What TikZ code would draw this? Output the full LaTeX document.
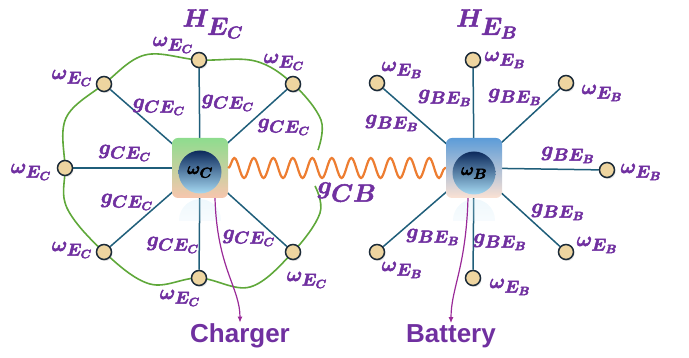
\documentclass[tikz,border=0pt]{standalone}
\usepackage{fontspec}
\newfontfamily\tagfont{Liberation Sans}
\usetikzlibrary{calc,decorations.pathmorphing,backgrounds,fadings,arrows.meta,shadows}
\DeclareMathSizes{22}{22}{16}{12}
\DeclareMathSizes{32}{32}{23}{17}
\DeclareMathSizes{18}{18}{14}{10}
\definecolor{labelpurple}{HTML}{7030A0}
\definecolor{linkblue}{HTML}{1F5E7A}
\definecolor{ringgreen}{HTML}{5FA83A}
\definecolor{coilorange}{HTML}{ED7D31}
\definecolor{feedpurple}{HTML}{9A2A98}
\definecolor{sandfill}{HTML}{EED5A0}
\definecolor{nodeedge}{HTML}{1B2A38}
\definecolor{coretop}{HTML}{0C2A5C}
\definecolor{coremid}{HTML}{4C88C2}
\definecolor{corebot}{HTML}{A6D9F2}
\definecolor{hubCtop}{HTML}{8EDC8E}
\definecolor{hubCbot}{HTML}{F7C6AE}
\definecolor{hubBtop}{HTML}{5C9CD8}
\definecolor{hubBbot}{HTML}{FCE2D4}
\begin{document}
\begin{tikzpicture}[
        x=1pt, y=1pt,
        hub/.style={
            rectangle,
            rounded corners=6pt,
            minimum width=56pt,
            minimum height=60pt,
            inner sep=0pt
        },
        core/.style={
            circle,
            minimum size=43pt,
            inner sep=0pt,
            top color=coretop,
            middle color=coremid,
            bottom color=corebot,
            font=\fontsize{18}{20}\selectfont\boldmath,
            heavy
        },
        env/.style={
            circle,
            draw=nodeedge,
            line width=1.5pt,
            fill=sandfill,
            minimum size=15pt,
            inner sep=0pt,
            drop shadow={shadow xshift=1pt, shadow yshift=-1.5pt, opacity=.25}
        },
        heavy/.style={
            execute at begin node={\special{pdf:literal direct 2 Tr 0.5 w}},
            execute at end node={\special{pdf:literal direct 0 Tr}}
        },
        lbl/.style={text=labelpurple, font=\fontsize{22}{24}\selectfont\boldmath, inner sep=0pt, heavy},
        big/.style={text=labelpurple, font=\fontsize{32}{34}\selectfont\boldmath, inner sep=0pt, heavy},
        tag/.style={text=labelpurple, font=\fontsize{26}{28}\selectfont\tagfont\bfseries, inner sep=1pt},
        link/.style={draw=linkblue, line width=1.5pt},
        ring/.style={draw=ringgreen, line width=1.6pt},
        coil/.style={draw=coilorange, line width=2.2pt, decorate,
            decoration={snake, amplitude=10pt, segment length=19.5pt}},
        feed/.style={->, >={Latex[length=6pt,width=5pt]}, draw=feedpurple, line width=1.2pt},
        glint/.style={fill=corebot!60!white, opacity=.3, path fading=south}
    ]

        \useasboundingbox (0,0) rectangle (689,358);

        \node[hub, top color=hubCtop, bottom color=hubCbot] (C) at (200,190) {};
        \node[hub, top color=hubBtop, bottom color=hubBbot] (B) at (474,190) {};
        \node[core] (wC) at (200,186) {$\omega_C$};
        \node[core] (wB) at (474,185) {$\omega_B$};

        \begin{scope}
            \clip ($(C.south west)+(0,-1)$) rectangle ($(C.south east)+(0,-22)$);
            \fill[glint] ($(C.south)+(0,-22)$) circle (21pt);
        \end{scope}
        \begin{scope}
            \clip ($(B.south west)+(0,-1)$) rectangle ($(B.south east)+(0,-22)$);
            \fill[glint] ($(B.south)+(0,-22)$) circle (21pt);
        \end{scope}

        \node[env] (c1) at (199,298) {};
        \node[env] (c2) at (293,274) {};
        \node[env] (c3) at (293,106) {};
        \node[env] (c4) at (199,80) {};
        \node[env] (c5) at (104,106) {};
        \node[env] (c6) at (65,190) {};
        \node[env] (c7) at (104,274) {};

        \node[env] (b1) at (473,298) {};
        \node[env] (b2) at (566,275) {};
        \node[env] (b3) at (607,188) {};
        \node[env] (b4) at (566,106) {};
        \node[env] (b5) at (473,80) {};
        \node[env] (b6) at (377,106) {};
        \node[env] (b7) at (377,275) {};

        \coordinate (ringA) at (318,208);
        \coordinate (ringZ) at (315,172);

        \begin{pgfonlayer}{background}
            \draw[ring] plot[smooth, tension=0.6] coordinates {(ringA) (321,238) (c2) (255,297) (c1) (145,303) (c7) (66,240) (c6) (67,150) (c5) (150,74) (c4) (250,71) (c3) (320,145) (ringZ)};
            \draw[link] (C.center) -- (c1);
            \draw[link] (C.center) -- (c2);
            \draw[link] (C.center) -- (c3);
            \draw[link] (C.center) -- (c4);
            \draw[link] (C.center) -- (c5);
            \draw[link] (C.center) -- (c6);
            \draw[link] (C.center) -- (c7);
            \draw[link] (B.center) -- (b1);
            \draw[link] (B.center) -- (b2);
            \draw[link] (B.center) -- (b3);
            \draw[link] (B.center) -- (b4);
            \draw[link] (B.center) -- (b5);
            \draw[link] (B.center) -- (b6);
            \draw[link] (B.center) -- (b7);
        \end{pgfonlayer}

        \draw[coil] (C.east) -- (B.west);

        \node[big] (HC) at (213,334) {$H_{E_C}$};
        \node[big] (HB) at (487,334) {$H_{E_B}$};
        \node[big] (gCB) at (347,166) {$g_{CB}$};

        \node[lbl] (wc1) at (173,313) {$\omega_{E_C}$};
        \node[lbl] (wc2) at (284,296) {$\omega_{E_C}$};
        \node[lbl] (wc3) at (307,78) {$\omega_{E_C}$};
        \node[lbl] (wc4) at (180,60) {$\omega_{E_C}$};
        \node[lbl] (wc5) at (72,108) {$\omega_{E_C}$};
        \node[lbl] (wc6) at (31,186) {$\omega_{E_C}$};
        \node[lbl] (wc7) at (72,280) {$\omega_{E_C}$};

        \node[lbl] (gc1) at (228,255) {$g_{CE_C}$};
        \node[lbl] (gc2) at (284,231) {$g_{CE_C}$};
        \node[lbl] (gc3) at (249,120) {$g_{CE_C}$};
        \node[lbl] (gc4) at (173,113) {$g_{CE_C}$};
        \node[lbl] (gc5) at (127,156) {$g_{CE_C}$};
        \node[lbl] (gc6) at (125,205) {$g_{CE_C}$};
        \node[lbl] (gc7) at (159,251) {$g_{CE_C}$};

        \node[lbl] (wb1) at (505,298) {$\omega_{E_B}$};
        \node[lbl] (wb2) at (602,265) {$\omega_{E_B}$};
        \node[lbl] (wb3) at (641,186) {$\omega_{E_B}$};
        \node[lbl] (wb4) at (597,113) {$\omega_{E_B}$};
        \node[lbl] (wb5) at (510,71) {$\omega_{E_B}$};
        \node[lbl] (wb6) at (402,88) {$\omega_{E_B}$};
        \node[lbl] (wb7) at (402,288) {$\omega_{E_B}$};

        \node[lbl] (gb1) at (445,260) {$g_{BE_B}$};
        \node[lbl] (gb2) at (515,261) {$g_{BE_B}$};
        \node[lbl] (gb3) at (568,203) {$g_{BE_B}$};
        \node[lbl] (gb4) at (558,146) {$g_{BE_B}$};
        \node[lbl] (gb5) at (500,116) {$g_{BE_B}$};
        \node[lbl] (gb6) at (433,121) {$g_{BE_B}$};
        \node[lbl] (gb7) at (392,235) {$g_{BE_B}$};

        \node[tag] (charger) at (240,22) {Charger};
        \node[tag] (battery) at (451,22) {Battery};

        \draw[feed] ([xshift=15pt]C.south) .. controls +(2,-70) and +(0,35) .. (charger.north);
        \draw[feed] ([xshift=-6pt]B.south) .. controls +(-2,-70) and +(0,35) .. (battery.north);

    \end{tikzpicture}
\end{document}
